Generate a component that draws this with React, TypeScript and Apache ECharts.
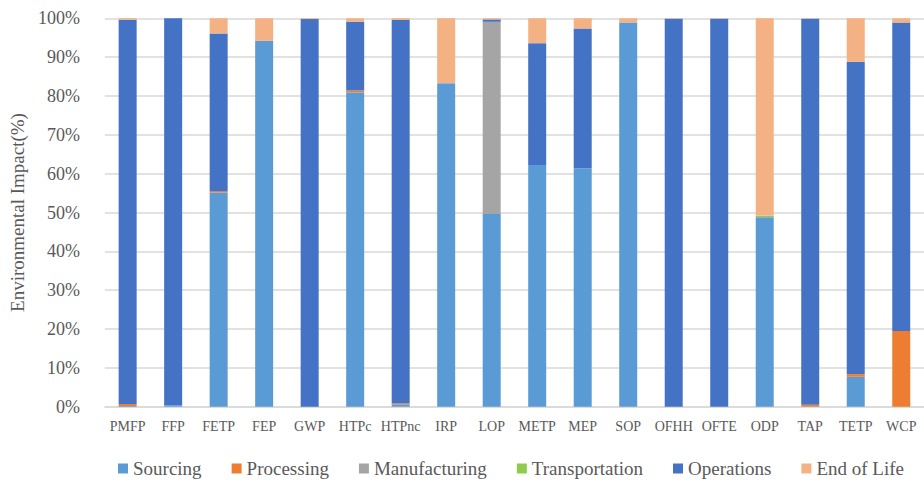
import React, { useEffect, useRef } from "react";
import * as echarts from "echarts";

const categories = ["PMFP", "FFP", "FETP", "FEP", "GWP", "HTPc", "HTPnc", "IRP", "LOP", "METP", "MEP", "SOP", "OFHH", "OFTE", "ODP", "TAP", "TETP", "WCP"];
const sourcing = [0.2, 0.3, 55.1, 94.2, 0, 80.9, 0.6, 83.3, 49.6, 62.2, 61.4, 98.9, 0, 0, 48.8, 0, 7.7, 0];
const processing = [0.5, 0, 0.4, 0, 0, 0.5, 0.3, 0, 0, 0, 0, 0, 0, 0, 0, 0.5, 0.7, 19.5];
const manufacturing = [0, 0, 0, 0, 0, 0, 0, 0, 49.5, 0, 0, 0, 0, 0, 0, 0, 0, 0];
const transportation = [0, 0, 0, 0, 0, 0, 0, 0, 0, 0, 0, 0, 0, 0, 0.4, 0, 0, 0];
const operations = [98.9, 99.7, 40.6, 0, 99.8, 17.7, 98.7, 0, 0.6, 31.4, 36.0, 0, 99.9, 99.9, 0, 99.4, 80.4, 79.4];
const endOfLife = [0.4, 0, 3.9, 5.8, 0.2, 0.9, 0.4, 16.7, 0.3, 6.4, 2.6, 1.1, 0.1, 0.1, 50.8, 0.1, 11.2, 1.1];
const yTicks = { min: 0, max: 100, interval: 10 };

const seriesDefs = [
  { name: "Sourcing", data: sourcing, color: "#5B9BD5" },
  { name: "Processing", data: processing, color: "#ED7D31" },
  { name: "Manufacturing", data: manufacturing, color: "#A5A5A5" },
  { name: "Transportation", data: transportation, color: "#8FCB4E" },
  { name: "Operations", data: operations, color: "#4472C4" },
  { name: "End of Life", data: endOfLife, color: "#F4B183" },
];

const FONT = "Liberation Serif";
const TXT = "#595959";

export default function App() {
  const ref = useRef<HTMLDivElement>(null);
  useEffect(() => {
    document.body.style.margin = "0";
    const chart = echarts.init(ref.current!, null, { renderer: "svg" });
    chart.setOption({
      animation: false,
      backgroundColor: "#ffffff",
      grid: { left: 94.5, right: -3, top: 18.3, bottom: 75.3, containLabel: false },
      legend: {
        left: 113,
        top: 454,
        itemWidth: 10,
        itemHeight: 10,
        itemGap: 30,
        icon: "rect",
        textStyle: { fontFamily: FONT, fontSize: 19, color: TXT },
        data: seriesDefs.map((s) => s.name),
      },
      xAxis: {
        type: "category",
        data: categories,
        axisLine: { show: true, lineStyle: { color: "#d9d9d9", width: 1.5 } },
        axisTick: { show: false },
        axisLabel: { fontFamily: FONT, fontSize: 14, color: TXT, margin: 13, interval: 0 },
      },
      yAxis: {
        type: "value",
        min: yTicks.min,
        max: yTicks.max,
        interval: yTicks.interval,
        name: "Environmental Impact(%)",
        nameLocation: "middle",
        nameGap: 64,
        nameRotate: 90,
        nameTextStyle: { fontFamily: FONT, fontSize: 19, color: TXT },
        axisLine: { show: false },
        axisTick: { show: false },
        axisLabel: { formatter: "{value}%", fontFamily: FONT, fontSize: 18, color: TXT, margin: 25 },
        splitLine: { lineStyle: { color: "#d9d9d9", width: 1.5 } },
      },
      series: seriesDefs.map((s) => ({
        name: s.name,
        type: "bar",
        stack: "total",
        barWidth: 18,
        data: s.data,
        itemStyle: { color: s.color },
      })),
    });
    return () => chart.dispose();
  }, []);
  return <div ref={ref} style={{ position: "fixed", left: 0, top: 0, width: 924, height: 482 }} />;
}
